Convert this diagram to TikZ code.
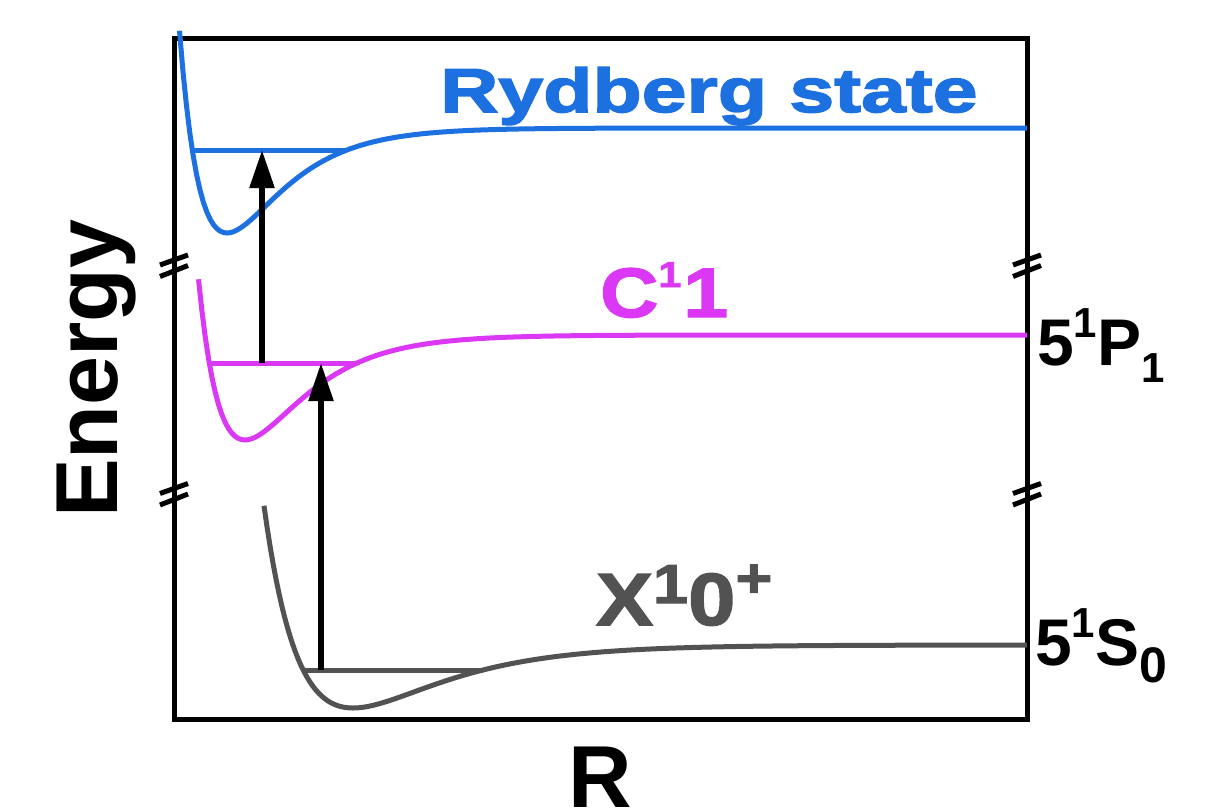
\documentclass[tikz,border=0pt]{standalone}
\usepackage{fontspec}
\setmainfont{Liberation Sans}
\newfontfamily\blk{Liberation Sans}[UprightFont={* Bold},FakeBold=2,FakeStretch=1.15]
\newfontfamily\blkw{Liberation Sans}[UprightFont={* Bold},FakeBold=2.5,FakeStretch=1.3]
\usetikzlibrary{arrows.meta}
\definecolor{rydc}{RGB}{28,112,224}
\definecolor{cc}{RGB}{218,56,245}
\definecolor{xc}{RGB}{82,82,82}
\begin{document}
\begin{tikzpicture}[x=1pt,y=-1pt,
  axisline/.style={line width=5pt},
  curve/.style={line width=5pt},
  brk/.style={line width=5pt},
  excite/.style={line width=5.5pt,-{Triangle[width=24pt,length=38pt]}},
  lbl/.style={anchor=base west,inner sep=0pt}
  ]
\useasboundingbox (0,0) rectangle (1221,809);
% frame
\draw[axisline] (174,38) rectangle (1027,719);
% axis breaks
\foreach \bx in {174,1027}{
  \foreach \by in {265.5,494}{
    \draw[brk] (\bx-14,\by-0.5) -- (\bx+14,\by-10.5);
    \draw[brk] (\bx-14,\by+11) -- (\bx+14,\by);
  }
}
% Rydberg curve
\draw[curve,rydc] plot[domain=179.5:1027,samples=250]
  ({\x},{233-105*(1-exp(-0.01833*(\x-227)))*(1-exp(-0.01833*(\x-227)))});
\coordinate (rl) at (192.3,150);
\coordinate (rr) at (346.9,150);
\draw[curve,rydc] (rl) -- (rr);
% C curve
\draw[curve,cc] plot[domain=198.5:1027,samples=250]
  ({\x},{440-105*(1-exp(-0.01732*(\x-245)))*(1-exp(-0.01732*(\x-245)))});
\coordinate (cl) at (209.3,363);
\coordinate (cr) at (357,363);
\draw[curve,cc] (cl) -- (cr);
% X curve
\draw[curve,xc] plot[domain=264:1027,samples=250]
  ({\x},{708-63*(1-exp(-0.01154*(\x-353)))*(1-exp(-0.01154*(\x-353)))});
\coordinate (xl) at (303.2,670);
\coordinate (xr) at (482.9,670);
\draw[curve,xc] (xl) -- (xr);
% arrows
\coordinate (a1s) at (262,363);
\coordinate (a1e) at (262,150);
\coordinate (a2s) at (321,670);
\coordinate (a2e) at (321,363);
\draw[excite] (a1s) -- (a1e);
\draw[excite] (a2s) -- (a2e);
% labels
\node[lbl,text=rydc,font=\blkw\fontsize{62}{62}\selectfont] (ryd) at (440,112) {Rydberg state};
\node[lbl,text=cc,font=\blk\fontsize{70}{70}\selectfont] (clab) at (600,317)
  {C\raisebox{30pt}{\fontsize{36}{36}\selectfont 1}\kern2pt 1};
\node[lbl,text=xc,font=\blk\fontsize{74}{74}\selectfont] (xlab) at (596,625)
  {X\raisebox{22pt}{\fontsize{55}{55}\selectfont 1}0\raisebox{28pt}{\fontsize{55}{55}\selectfont +}};
\node[lbl,font=\bfseries\fontsize{66}{66}\selectfont] (plab) at (1037,365)
  {5\raisebox{28pt}{\fontsize{42}{42}\selectfont 1}P\raisebox{-17pt}{\fontsize{42}{42}\selectfont 1}};
\node[lbl,font=\bfseries\fontsize{66}{66}\selectfont] (slab) at (1035,665)
  {5\raisebox{28pt}{\fontsize{42}{42}\selectfont 1}S\raisebox{-17pt}{\fontsize{50}{50}\selectfont 0}};
\node[lbl,rotate=90,font=\bfseries\fontsize{88}{88}\selectfont] (energy) at (117,518) {Energy};
\node[anchor=base,inner sep=0pt,font=\bfseries\fontsize{88}{88}\selectfont] (rlab) at (600,807) {R};
\end{tikzpicture}
\end{document}
